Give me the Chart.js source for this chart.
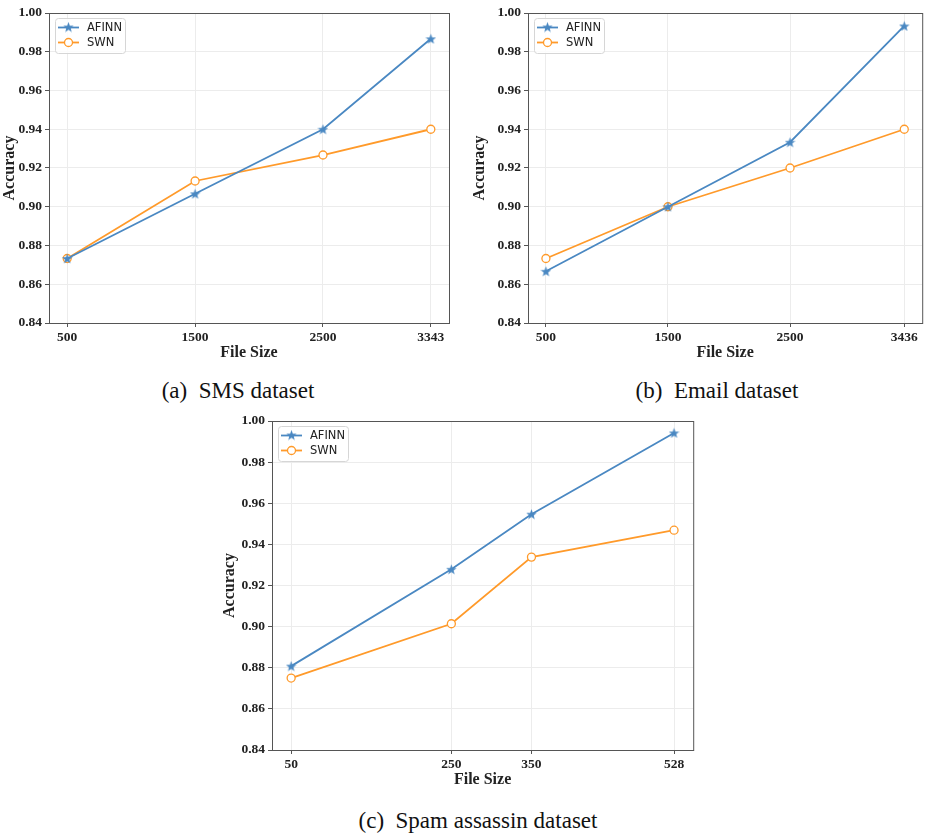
<!DOCTYPE html>
<html>
<head>
<meta charset="utf-8">
<script src="https://cdn.jsdelivr.net/npm/chart.js@4.4.0/dist/chart.umd.min.js"></script>
<style>
  body { margin: 0; background: #fff; width: 929px; height: 835px; position: relative; overflow: hidden; }
  .box { position: absolute; }
  .cap { position: absolute; font-family: "Liberation Serif", "Times New Roman", serif; font-size: 23px; color: #111; white-space: pre; transform: translateX(-50%); line-height: 1; }
</style>
</head>
<body>
<div class="box" style="left:0;top:0;width:460px;height:362px"><canvas id="chartA"></canvas></div>
<div class="box" style="left:470px;top:0;width:459px;height:362px"><canvas id="chartB"></canvas></div>
<div class="box" style="left:220px;top:405px;width:480px;height:384px"><canvas id="chartC"></canvas></div>
<div class="cap" style="left:238px;top:379px">(a)  SMS dataset</div>
<div class="cap" style="left:717px;top:379px">(b)  Email dataset</div>
<div class="cap" style="left:478px;top:809px">(c)  Spam assassin dataset</div>
<script>
'use strict';

// file sizes (x) per dataset
var smsSizes = [500, 1500, 2500, 3343];
var emailSizes = [500, 1500, 2500, 3436];
var spamSizes = [50, 250, 350, 528];

// accuracy values
var smsAfinn = [0.8733, 0.9067, 0.9400, 0.9867];
var smsSwn = [0.8733, 0.9133, 0.9267, 0.9400];
var emailAfinn = [0.8667, 0.9000, 0.9333, 0.9933];
var emailSwn = [0.8733, 0.9000, 0.9200, 0.9400];
var spamAfinn = [0.8808, 0.9279, 0.9547, 0.9942];
var spamSwn = [0.8750, 0.9014, 0.9338, 0.9469];

var seriesNames = ['AFINN', 'SWN'];
var yTicks = [0.84, 0.86, 0.88, 0.90, 0.92, 0.94, 0.96, 0.98, 1.00];

var blue = '#4a88c2';
var orange = '#ff9a2a';
var serif = '"Liberation Serif", "Times New Roman", serif';

// filled star marker like matplotlib '*'
function makeStar(color, size) {
  var c = document.createElement('canvas');
  c.width = size; c.height = size;
  var g = c.getContext('2d');
  var cx = size / 2, cy = size / 2 + 0.5, ro = size / 2, ri = ro * 0.42;
  g.beginPath();
  for (var i = 0; i < 10; i++) {
    var r = i % 2 === 0 ? ro : ri;
    var a = -Math.PI / 2 + i * Math.PI / 5;
    var px = cx + r * Math.cos(a), py = cy + r * Math.sin(a);
    if (i === 0) g.moveTo(px, py); else g.lineTo(px, py);
  }
  g.closePath();
  g.fillStyle = color;
  g.fill();
  return c;
}
var starImg = makeStar(blue, 11);

function toPoints(xs, ys) {
  return xs.map(function(x, i) { return { x: x, y: ys[i] }; });
}

// frame around the plot + legend box in upper left
var framePlugin = {
  id: 'frame',
  afterDraw: function(chart) {
    var ctx = chart.ctx;
    var a = chart.chartArea;
    ctx.save();
    ctx.strokeStyle = '#555';
    ctx.lineWidth = 1;
    ctx.strokeRect(a.left + 0.5, a.top + 0.5, a.right - a.left, a.bottom - a.top);

    var lx = a.left + 6, ly = a.top + 5;
    ctx.fillStyle = 'rgba(255,255,255,0.85)';
    ctx.strokeStyle = '#d6d6d6';
    ctx.beginPath();
    ctx.roundRect(lx + 0.5, ly + 0.5, 70, 35, 3);
    ctx.fill();
    ctx.stroke();

    ctx.font = '11.5px "DejaVu Sans", sans-serif';
    ctx.textBaseline = 'middle';
    chart.data.datasets.forEach(function(ds, i) {
      var yy = ly + 9.5 + i * 15;
      ctx.strokeStyle = ds.borderColor;
      ctx.lineWidth = 1.8;
      ctx.beginPath();
      ctx.moveTo(lx + 3, yy);
      ctx.lineTo(lx + 24, yy);
      ctx.stroke();
      if (i === 0) {
        ctx.drawImage(starImg, lx + 13.5 - 5.5, yy - 6);
      } else {
        ctx.lineWidth = 1.3;
        ctx.fillStyle = '#fff';
        ctx.beginPath();
        ctx.arc(lx + 13.5, yy, 4, 0, Math.PI * 2);
        ctx.fill();
        ctx.stroke();
      }
      ctx.fillStyle = '#222';
      ctx.fillText(ds.label, lx + 32, yy + 0.5);
    });
    ctx.restore();
  }
};

function makeChart(id, sizes, afinn, swn, yAxisWidth, xAxisHeight, pad) {
  var span = sizes[sizes.length - 1] - sizes[0];
  var ctx = document.getElementById(id).getContext('2d');
  return new Chart(ctx, {
    type: 'line',
    data: {
      datasets: [
        {
          label: seriesNames[0],
          data: toPoints(sizes, afinn),
          borderColor: blue,
          backgroundColor: blue,
          borderWidth: 1.8,
          pointStyle: starImg,
          pointRadius: 5,
          tension: 0
        },
        {
          label: seriesNames[1],
          data: toPoints(sizes, swn),
          borderColor: orange,
          backgroundColor: '#fff',
          borderWidth: 1.8,
          pointStyle: 'circle',
          pointRadius: 4,
          pointBorderWidth: 1.3,
          tension: 0
        }
      ]
    },
    options: {
      responsive: true,
      maintainAspectRatio: false,
      animation: false,
      layout: { padding: pad },
      plugins: {
        legend: { display: false },
        tooltip: { enabled: false }
      },
      scales: {
        x: {
          type: 'linear',
          min: sizes[0] - span * 0.05,
          max: sizes[sizes.length - 1] + span * 0.05,
          afterBuildTicks: function(scale) {
            scale.ticks = sizes.map(function(v) { return { value: v }; });
          },
          afterFit: function(scale) { scale.height = xAxisHeight; },
          grid: { color: '#ececec', tickColor: '#555', tickLength: 4 },
          border: { display: false },
          ticks: {
            color: '#222',
            padding: 2,
            maxRotation: 0,
            font: { family: serif, size: 13.5, weight: 'bold' },
            callback: function(v) { return String(v); }
          },
          title: {
            display: true,
            text: 'File Size',
            color: '#222',
            padding: { top: 0, bottom: 0 },
            font: { family: serif, size: 16, weight: 'bold' }
          }
        },
        y: {
          min: 0.84,
          max: 1.00,
          afterBuildTicks: function(scale) {
            scale.ticks = yTicks.map(function(v) { return { value: v }; });
          },
          afterFit: function(scale) { scale.width = yAxisWidth; },
          grid: { color: '#ececec', tickColor: '#555', tickLength: 4 },
          border: { display: false },
          ticks: {
            color: '#222',
            padding: 3,
            font: { family: serif, size: 13.5, weight: 'bold' },
            callback: function(v) { return v.toFixed(2); }
          },
          title: {
            display: true,
            text: 'Accuracy',
            color: '#222',
            padding: { top: 0, bottom: 0 },
            font: { family: serif, size: 16, weight: 'bold' }
          }
        }
      }
    },
    plugins: [framePlugin]
  });
}

makeChart('chartA', smsSizes, smsAfinn, smsSwn, 49, 39, { top: 13, right: 11, left: 0, bottom: 0 });
makeChart('chartB', emailSizes, emailAfinn, emailSwn, 58, 39, { top: 13, right: 2, left: 0, bottom: 0 });
makeChart('chartC', spamSizes, spamAfinn, spamSwn, 52, 39, { top: 16, right: 4, left: 0, bottom: 0 });
</script>
</body>
</html>
